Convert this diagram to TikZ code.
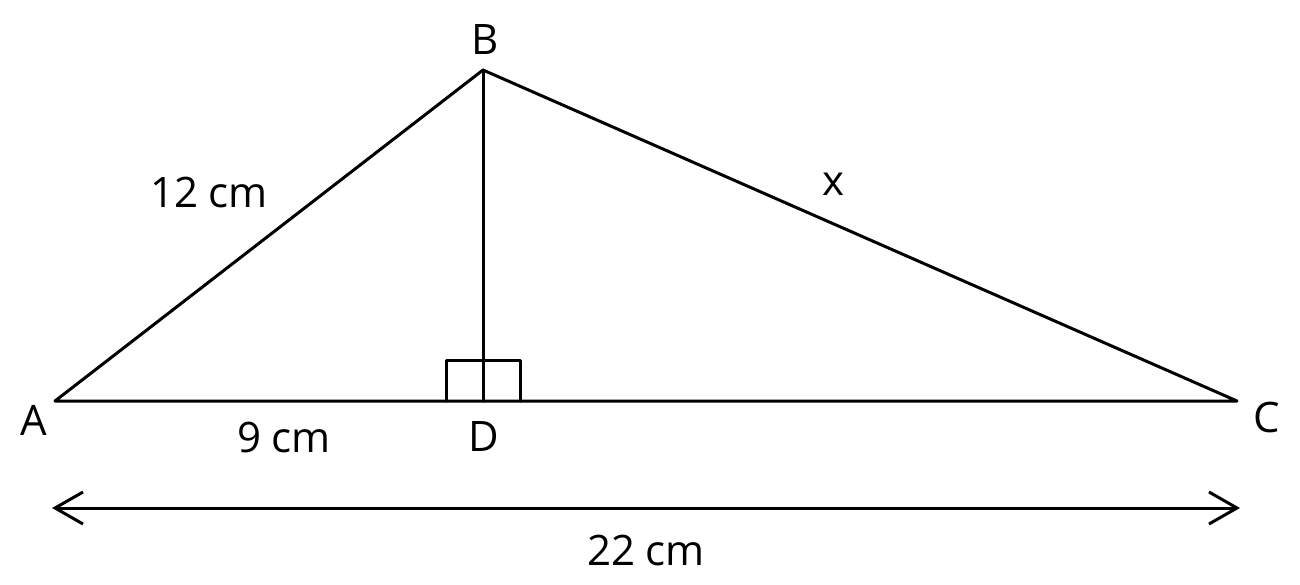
\documentclass[tikz,border=0pt]{standalone}
\usepackage{fontspec}
\setmainfont{Open Sans}
\usetikzlibrary{arrows.meta}
\begin{document}
\begin{tikzpicture}[x=1pt,y=-1pt,line width=3pt,
  lbl/.style={inner sep=0pt,font=\fontsize{42}{48}\selectfont},
  seg/.style={line width=3pt,line cap=round,line join=round}]
\useasboundingbox (0,0) rectangle (1300,584);
\coordinate (A) at (55,401);
\coordinate (B) at (483,70);
\coordinate (C) at (1237,401);
\coordinate (D) at (483,401);
\coordinate (L) at (52,508);
\coordinate (R) at (1240,508);
\draw[seg] (A) -- (B) -- (C) -- cycle;
\draw[seg] (B) -- (D);
\draw[seg] (446,401) -- (446,360) -- (520,360) -- (520,401);
\draw[seg,{Straight Barb[length=28pt,width=32pt,line width=3pt]}-{Straight Barb[length=28pt,width=32pt,line width=3pt]}] (L) -- (R);
\node[lbl] (nB) at (485,40) {B};
\node[lbl] (nA) at (34,420) {A};
\node[lbl] (nC) at (1267,417) {C};
\node[lbl] (nD) at (484,437) {D};
\node[lbl] (l12) at (209,192) {12 cm};
\node[lbl] (lx) at (833,184) {x};
\node[lbl] (l9) at (284,437) {9 cm};
\node[lbl] (l22) at (646,550) {22 cm};
\end{tikzpicture}
\end{document}
